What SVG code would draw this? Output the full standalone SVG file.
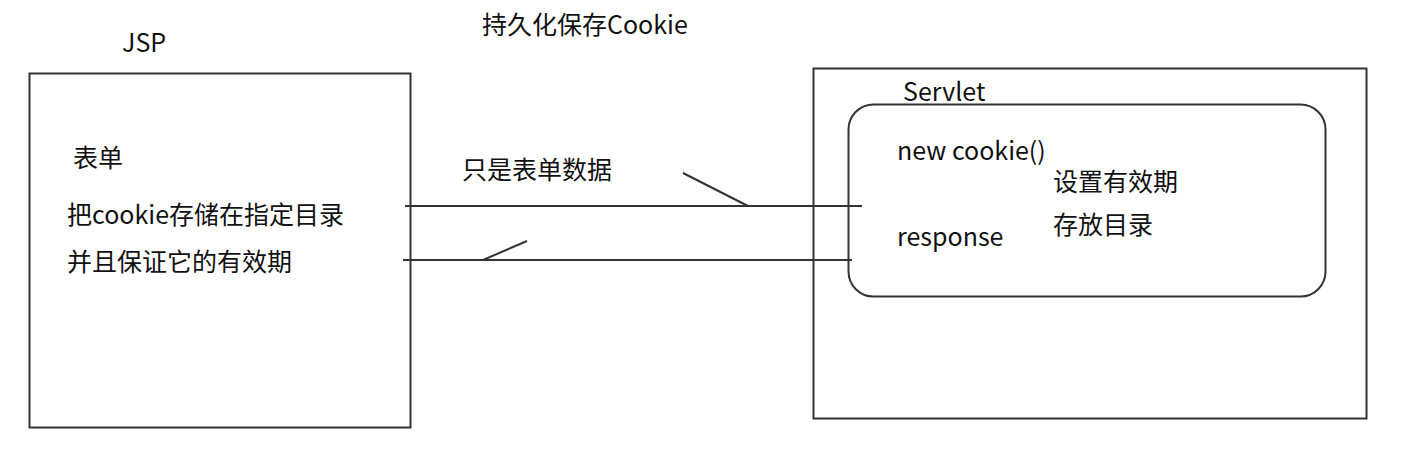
<svg xmlns="http://www.w3.org/2000/svg" width="1419" height="470" viewBox="0 0 1419 470">
<style>
text{font-family:"Noto Sans CJK SC","Open Sans",sans-serif;font-size:25px;fill:#111}
.box{fill:none;stroke:#333;stroke-width:2}
.ln{stroke:#333;stroke-width:2;fill:none}
</style>
<rect width="1419" height="470" fill="#fff"/>
<text x="482" y="34">持久化保存Cookie</text>
<g id="jsp">
<text x="122" y="52">JSP</text>
<rect class="box" x="29.5" y="73.5" width="381" height="354"/>
<text x="73" y="167">表单</text>
<text x="67" y="224">把cookie存储在指定目录</text>
<text x="67" y="271">并且保证它的有效期</text>
</g>
<g id="servlet">
<rect class="box" x="813.5" y="68.5" width="553" height="350"/>
<text x="903" y="101">Servlet</text>
<rect class="box" x="848.5" y="104.5" width="477" height="192" rx="25"/>
<text x="897" y="160">new cookie()</text>
<text x="1053" y="191">设置有效期</text>
<text x="1053" y="234">存放目录</text>
<text x="897" y="246">response</text>
</g>
<g id="connectors">
<text x="462" y="179">只是表单数据</text>
<path class="ln" d="M405 206H862M683 173L748 206"/>
<path class="ln" d="M403 260H852M483 260L527 241"/>
</g>
</svg>
